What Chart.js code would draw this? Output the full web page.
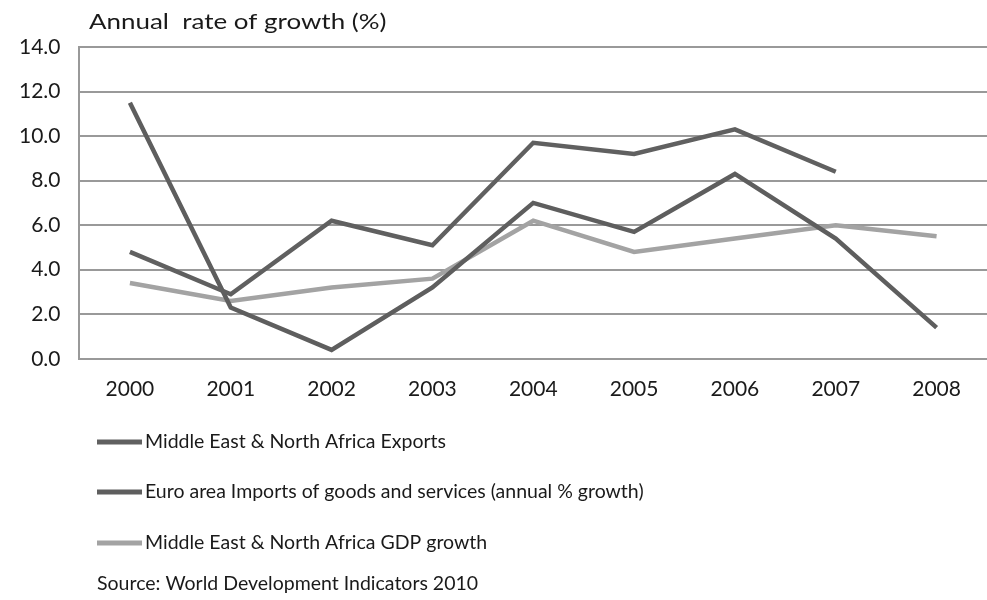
<!DOCTYPE html>
<html>
<head>
<meta charset="utf-8">
<script src="https://cdn.jsdelivr.net/npm/chart.js@4.4.0/dist/chart.umd.min.js"></script>
<style>
  html, body { margin: 0; padding: 0; background: #fff; }
  #wrap { width: 987px; height: 600px; }
</style>
</head>
<body>
<div id="wrap"><canvas id="myChart" width="987" height="600"></canvas></div>
<script>
// data
const years = ['2000', '2001', '2002', '2003', '2004', '2005', '2006', '2007', '2008'];
const menaExports = [4.8, 2.9, 6.2, 5.1, 9.7, 9.2, 10.3, 8.4, null];
const euroImports = [11.5, 2.3, 0.4, 3.2, 7.0, 5.7, 8.3, 5.4, 1.4];
const menaGdp = [3.4, 2.6, 3.2, 3.6, 6.2, 4.8, 5.4, 6.0, 5.5];
const yTicks = [0, 2, 4, 6, 8, 10, 12, 14];

const FONT = 'Lato, "Open Sans", sans-serif';
const TEXT = '#1a1a1a';

// title on top + legend and source underneath, drawn by hand
const extras = {
    id: 'extras',
    afterDraw(chart) {
        const ctx = chart.ctx;
        ctx.save();
        ctx.fillStyle = TEXT;
        ctx.textBaseline = 'middle';
        // the title in the picture is a bit stretched sideways
        ctx.save();
        ctx.translate(89, 22);
        ctx.scale(1.18, 1);
        ctx.font = '22px ' + FONT;
        ctx.fillText('Annual  rate of growth (%)', 0, 0);
        ctx.restore();

        ctx.font = '19.5px ' + FONT;
        const rows = [442, 492, 543];
        chart.data.datasets.forEach(function (ds, i) {
            ctx.strokeStyle = ds.borderColor;
            ctx.lineWidth = 5;
            ctx.beginPath();
            ctx.moveTo(97, rows[i]);
            ctx.lineTo(142, rows[i]);
            ctx.stroke();
            ctx.fillText(ds.label, 145, rows[i]);
        });
        ctx.fillText('Source: World Development Indicators 2010', 97, 584);
        ctx.restore();
    }
};

const ctx = document.getElementById('myChart').getContext('2d');
const myChart = new Chart(ctx, {
    type: 'line',
    data: {
        labels: years,
        datasets: [{
            label: 'Middle East & North Africa Exports',
            data: menaExports,
            borderColor: '#606060',
            borderWidth: 4.5,
            pointRadius: 0
        }, {
            label: 'Euro area Imports of goods and services (annual % growth)',
            data: euroImports,
            borderColor: '#5e5e5e',
            borderWidth: 4.5,
            pointRadius: 0
        }, {
            label: 'Middle East & North Africa GDP growth',
            data: menaGdp,
            borderColor: '#a3a3a3',
            borderWidth: 4.5,
            pointRadius: 0
        }]
    },
    options: {
        responsive: false,
        animation: false,
        layout: { padding: { top: 47, right: 0, bottom: 188, left: 0 } },
        plugins: {
            legend: { display: false },
            tooltip: { enabled: false }
        },
        scales: {
            x: {
                offset: true,
                grid: { display: false },
                border: { display: false },
                ticks: {
                    color: TEXT,
                    font: { family: FONT, size: 21 },
                    padding: 10,
                    maxRotation: 0
                }
            },
            y: {
                min: 0,
                max: 14,
                afterBuildTicks: function (axis) {
                    axis.ticks = yTicks.map(function (v) { return { value: v }; });
                },
                grid: { color: '#999999', lineWidth: 2, drawTicks: false },
                border: { display: true, color: '#999999', width: 2 },
                ticks: {
                    color: TEXT,
                    font: { family: FONT, size: 21 },
                    padding: 19,
                    callback: function (v) { return Number(v).toFixed(1); }
                }
            }
        }
    },
    plugins: [extras]
});
</script>
</body>
</html>
